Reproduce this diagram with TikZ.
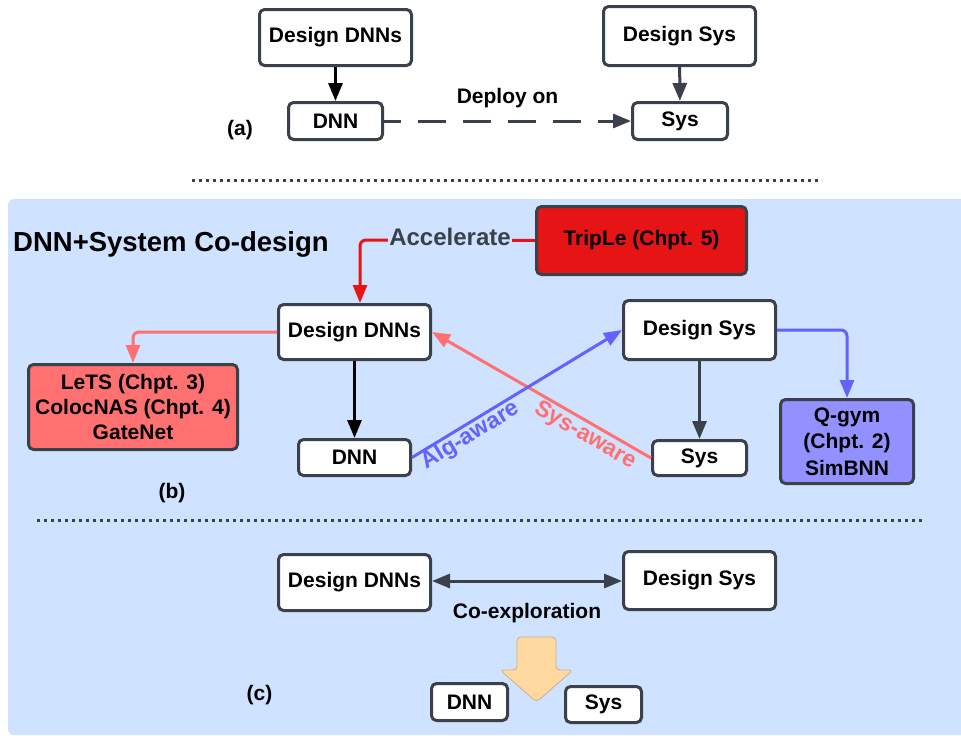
\documentclass[tikz,border=0pt]{standalone}
\usepackage{fontspec}
\setmainfont{Liberation Sans}
\usetikzlibrary{arrows.meta}
\definecolor{dk}{HTML}{3A414A}
\definecolor{panelblue}{HTML}{CFE2FF}
\definecolor{tripred}{HTML}{E61414}
\definecolor{salmon}{HTML}{FF7070}
\definecolor{qfill}{HTML}{9391FF}
\definecolor{bline}{HTML}{6461FF}
\definecolor{peach}{HTML}{FFD9A0}
\definecolor{peachline}{HTML}{CDB08A}
\newcommand\myfs[2]{\fontsize{#1}{#2}\selectfont}
\begin{document}
\begin{tikzpicture}[x=1pt,y=-1pt,
  box/.style={draw=dk, line width=3pt, rounded corners=5pt, fill=white, inner sep=0pt,
    font=\myfs{21}{25}\bfseries, align=center, text=black},
  arr/.style={line width=3pt, -{Triangle[length=18pt,width=14pt]}},
  lbl/.style={font=\myfs{21}{25}\bfseries, text=black, inner sep=0pt},
  dotline/.style={draw=dk, line width=3pt, dash pattern=on 3pt off 4pt}]
\useasboundingbox (0,0) rectangle (961,736);
% panel
\fill[panelblue, rounded corners=6pt] (975,199) -- (8,199) -- (8,735) -- (975,735) -- cycle;

% ---------- (a) ----------
\node[box, minimum width=152pt, minimum height=56pt] (dda) at (335.5,37.5) {Design DNNs};
\node[box, minimum width=94pt, minimum height=37pt] (dnna) at (335.5,121) {DNN};
\node[box, minimum width=152pt, minimum height=59pt] (dsa) at (679.5,36) {Design Sys};
\node[box, minimum width=95pt, minimum height=37pt] (sysa) at (680,121) {Sys};
\node[lbl] (la) at (240,130) {(a)};
\draw[arr, black] (dda) -- (dnna);
\draw[arr, dk] (dsa) -- (sysa);
\draw[arr, dk, dash pattern=on 28pt off 17pt, dash phase=11pt] (dnna) --
  node[midway, above=11.5pt, lbl] {Deploy on} (sysa);
\coordinate (d1a) at (192,180);
\coordinate (d1b) at (822,180);
\draw[dotline] (d1a) -- (d1b);

% ---------- (b) ----------
\node[anchor=west, inner sep=0pt, font=\myfs{27.5}{30}\bfseries] (title) at (13,244) {DNN+System Co-design};
\node[box, fill=tripred, minimum width=210pt, minimum height=68pt] (trip) at (641.5,240.5) {TripLe (Chpt. 5)};
\node[box, minimum width=152pt, minimum height=55pt] (ddb) at (354.5,332) {Design DNNs};
\node[box, minimum width=112pt, minimum height=36pt] (dnnb) at (354.5,457.5) {DNN};
\node[box, minimum width=152pt, minimum height=59pt] (dsb) at (699.5,330) {Design Sys};
\node[box, minimum width=94pt, minimum height=35pt] (sysb) at (699.5,458) {Sys};
\node[box, fill=salmon, minimum width=209pt, minimum height=85pt] (lets) at (133,407)
  {LeTS (Chpt. 3)\\ColocNAS (Chpt. 4)\\GateNet};
\node[box, fill=qfill, minimum width=133pt, minimum height=84pt, font=\myfs{21}{26.5}\bfseries] (qgym) at (847,441.5)
  {Q-gym\\(Chpt. 2)\\SimBNN};
\node[lbl] (lb) at (172,493) {(b)};
\coordinate (acc) at (360,240);
\draw[arr, tripred, rounded corners=6pt] (trip.west) -- (acc) -- (acc |- ddb.north);
\node[fill=panelblue, inner sep=1.5pt, text=dk, font=\myfs{24}{28}\bfseries] (acctext) at (450,236.5) {Accelerate};
\draw[arr, salmon, rounded corners=6pt] (ddb.west) -| (lets.north);
\draw[arr, bline, rounded corners=6pt] (dsb.east) -| (qgym.north);
\draw[arr, black] (ddb) -- (dnnb);
\draw[arr, dk] (dsb) -- (sysb);
\draw[arr, salmon] (sysb.west) -- node[pos=0.27, sloped, below=1.5pt, inner sep=0pt,
  text=salmon, font=\myfs{23}{26}\bfseries] {Sys-aware} (ddb.east);
\draw[arr, bline] (dnnb.east) -- node[pos=0.25, sloped, below=-0.5pt, inner sep=0pt,
  text=bline, font=\myfs{23}{26}\bfseries] {Alg-aware} (dsb.west);
\coordinate (d2a) at (37,520);
\coordinate (d2b) at (925,520);
\draw[dotline] (d2a) -- (d2b);

% ---------- (c) ----------
\node[box, minimum width=152pt, minimum height=56pt] (ddc) at (354.5,582.5) {Design DNNs};
\node[box, minimum width=152pt, minimum height=58pt] (dsc) at (699.5,580.5) {Design Sys};
\draw[line width=3pt, dk, {Triangle[length=18pt,width=14pt]}-{Triangle[length=18pt,width=14pt]}]
  (ddc.east |- 0,581) -- node[midway, below=21pt, lbl] {Co-exploration} (dsc.west |- 0,581);
\fill[peach, draw=peachline, line width=0.8pt, rounded corners=4pt]
  (517,637) -- (556,637) -- (556,670) -- (573,670) -- (536.5,702) -- (500,670) -- (517,670) -- cycle;
\node[box, minimum width=76pt, minimum height=37pt] (dnnc) at (469.5,702) {DNN};
\node[box, minimum width=76pt, minimum height=36pt] (sysc) at (603.5,704.5) {Sys};
\node[lbl] (lc) at (259.5,695) {(c)};
\end{tikzpicture}
\end{document}
